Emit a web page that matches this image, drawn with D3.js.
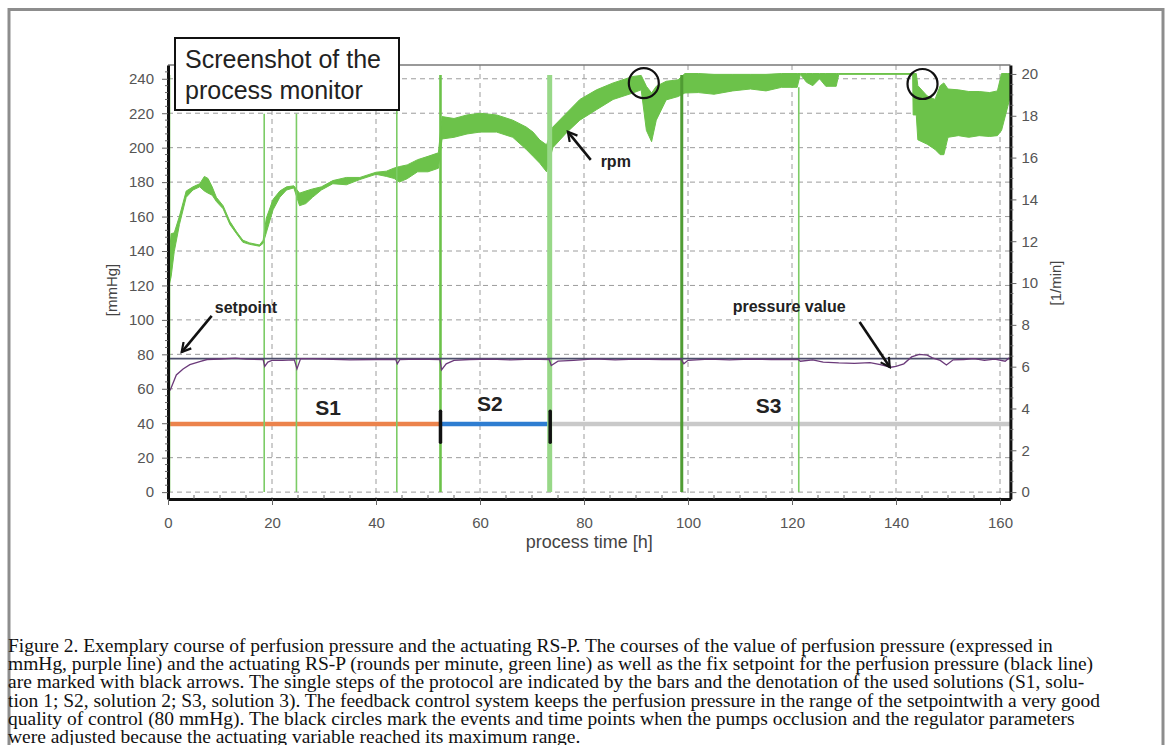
<!DOCTYPE html>
<html>
<head>
<meta charset="utf-8">
<script src="https://cdn.jsdelivr.net/npm/d3@7"></script>
<style>
  body { margin: 0; background: #fff; }
  text { font-family: "Liberation Sans", Arial, sans-serif; }
  .caption text { font-family: "Liberation Serif", "Times New Roman", serif; font-size: 18px; fill: #111; }
  .grid line { stroke: #9c9c9c; stroke-width: 1; stroke-dasharray: 5,4; }
  .axis text { font-size: 15px; fill: #555; }
  .axis .tick line { stroke: #666; }
  .axis .domain { stroke: #111; stroke-width: 3; }
  .note { font-size: 16px; font-weight: bold; fill: #222; }
  .sol { font-size: 21px; font-weight: bold; fill: #222; }
</style>
</head>
<body>
<svg id="chart"></svg>
<script>
var timeTicks = [0, 20, 40, 60, 80, 100, 120, 140, 160];
var leftTicks = [0, 20, 40, 60, 80, 100, 120, 140, 160, 180, 200, 220, 240];
var rightTicks = [0, 2, 4, 6, 8, 10, 12, 14, 16, 18, 20];

// rpm band (1/min): time [h], lower and upper edge of the noisy trace
var rpmTime = [0.2, 0.6, 1.2, 2.2, 3.5, 4.8, 6.1, 7.0, 7.7, 8.5, 9.3, 10.6, 11.9, 13.2, 14.4, 15.7, 17.6, 18.3,
  18.9, 20.2, 21.5, 22.8, 24.2,
  25.3, 26.5, 27.8, 29.5, 31.7, 34.3, 36.9, 40.0, 42.0, 43.5,
  44.5, 46.0, 48.0, 50.0, 52.0,
  52.7, 55.0, 57.5, 60.0, 63.2, 66.3, 68.9, 70.2, 71.5, 72.8,
  74.0, 76.6, 79.2, 82.4, 85.6, 89.4, 91.0, 92.0, 93.0, 93.9, 95.8, 98.1,
  99.4, 102, 105, 108.6, 112, 115, 118, 121,
  121.6, 122.8, 124.0, 125.3, 126.5, 128.5, 129.0, 143.2, 143.3, 143.9,
  144.2, 146.0, 147.5, 148.5, 149.2, 150.0, 152.0, 154.0, 156.0, 158.0, 159.5, 160.3, 161.5, 162.0];
var rpmLow = [9.88, 10.30, 11.50, 12.80, 14.10, 14.45, 14.60, 14.40, 14.30, 14.20, 13.90, 13.55, 12.80, 12.35, 11.95, 11.85, 11.76, 11.90,
  12.40, 13.50, 14.10, 14.45, 14.55,
  13.70, 13.80, 14.10, 14.45, 14.75, 14.70, 14.95, 15.20, 15.10, 15.00,
  14.83, 14.99, 15.32, 15.32, 15.49,
  16.89, 16.97, 17.13, 17.22, 17.22, 16.97, 16.39, 16.06, 15.73, 15.32,
  16.47, 17.18, 17.79, 18.29, 18.78, 19.09, 19.24, 17.30, 16.76, 17.79, 18.76, 18.92,
  19.09, 19.11, 19.03, 19.19, 19.28, 19.19, 19.36, 19.36,
  19.98, 19.60, 19.44, 19.77, 19.41, 19.41, 19.98, 19.98, 18.04, 18.04,
  16.85, 16.64, 16.39, 16.14, 16.14, 16.97, 17.05, 16.97, 17.05, 17.01, 17.05, 17.30, 18.45, 18.95];
var rpmHigh = [11.12, 12.36, 12.40, 13.20, 14.40, 14.60, 14.75, 15.10, 15.00, 14.60, 14.10, 13.70, 12.95, 12.45, 12.05, 11.92, 11.82, 12.05,
  13.10, 14.00, 14.40, 14.60, 14.65,
  14.30, 14.40, 14.50, 14.60, 14.90, 15.05, 15.05, 15.30, 15.35, 15.50,
  15.57, 15.65, 15.90, 16.06, 16.23,
  17.96, 17.87, 18.04, 18.12, 18.04, 17.79, 17.46, 17.22, 16.84, 16.61,
  17.46, 18.12, 18.78, 19.24, 19.57, 19.88, 19.93, 19.41, 19.09, 19.41, 19.65, 19.72,
  20.02, 20.02, 19.98, 19.98, 19.98, 19.98, 20.02, 20.02,
  20.02, 20.02, 20.02, 20.02, 20.02, 20.02, 20.02, 20.02, 20.02, 20.02,
  19.44, 18.95, 18.78, 19.44, 19.57, 19.28, 19.24, 19.16, 19.16, 19.11, 19.19, 20.02, 20.02, 20.02];

// short pump stops: rpm drops to 0 and back
var spikeTime = [0.15, 18.5, 24.7, 44.0, 52.4, 73.4, 98.8, 121.3];
var spikeTop = [19.95, 18.1, 18.1, 19.95, 19.95, 19.95, 19.95, 19.36];

// perfusion pressure value (mmHg)
var pressureTime = [0.4, 1.6, 2.9, 4.2, 6.1, 7.5, 10, 13, 15, 18.3, 18.6, 19.2, 20, 22, 24.3, 24.8, 25.5, 30, 35, 40, 43.8, 44.1, 44.6,
  48, 52.3, 52.6, 53.5, 55, 58, 62, 66, 70, 73.3, 73.7, 75, 78, 82, 86, 90, 95, 98.7, 99.2, 100, 104, 108, 112, 116,
  121.2, 121.6, 124, 126, 129, 132, 135, 137, 139, 140, 141.5, 143, 144.5, 146, 147, 148.5, 149.7, 151, 153, 155, 157, 159, 161, 161.8];
var pressureValue = [59, 68, 71.5, 74, 75.8, 77, 77.3, 77.8, 77.2, 77, 73, 75.5, 76.5, 76.5, 76.8, 71.5, 77.5, 77.3, 76.8, 77, 77, 74.5, 77,
  77.2, 77, 71, 74.5, 76.5, 77, 77.2, 76.8, 77.2, 77, 73.5, 76, 76.5, 77.4, 76.8, 77.2, 77, 77, 74.5, 76.5, 77.2, 76.8, 77.3, 77,
  77, 76, 76.8, 75.5, 75, 74.8, 75.2, 74, 72.5, 73, 74.5, 78.5, 80, 79.5, 78, 76.5, 73.8, 76.8, 77, 77.5, 76.5, 77.2, 76, 78];
var setpoint = 77.5;

// solutions used in the protocol
var solutionNames = ["S1", "S2", "S3"];
var solutionStart = [0, 52.4, 73.5];
var solutionEnd = [52.4, 73.5, 162];
var solutionLevel = 39.5;

// events marked with circles (time, rpm)
var eventTime = [91.5, 145.1];
var eventRpm = [19.56, 19.52];

var captionLines = [
  "Figure 2. Exemplary course of perfusion pressure and the actuating RS-P. The courses of the value of perfusion pressure (expressed in",
  "mmHg, purple line) and the actuating RS-P (rounds per minute, green line) as well as the fix setpoint for the perfusion pressure (black line)",
  "are marked with black arrows. The single steps of the protocol are indicated by the bars and the denotation of the used solutions (S1, solu-",
  "tion 1; S2, solution 2; S3, solution 3). The feedback control system keeps the perfusion pressure in the range of the setpointwith a very good",
  "quality of control (80 mmHg). The black circles mark the events and time points when the pumps occlusion and the regulator parameters",
  "were adjusted because the actuating variable reached its maximum range."
];

// ---- layout ----
var width = 1170, height = 745;
var plotLeft = 168, plotRight = 1010.4, plotTop = 65, plotBottom = 499;

var svg = d3.select("#chart")
    .attr("width", width)
    .attr("height", height);

var x = d3.scaleLinear().domain([0, 162]).range([plotLeft, plotRight]);
var yL = d3.scaleLinear().domain([-4, 248]).range([plotBottom, plotTop]);
var yR = d3.scaleLinear().domain([-4 / 12.14, 248 / 12.14]).range([plotBottom, plotTop]);

// outer frame of the figure
svg.append("path")
    .attr("d", "M9,745 V9.5 H1163 V745")
    .attr("fill", "none")
    .attr("stroke", "#8d8d8d")
    .attr("stroke-width", 3);

// grid
var grid = svg.append("g").attr("class", "grid");
grid.selectAll(".h")
    .data(leftTicks)
  .enter().append("line")
    .attr("x1", plotLeft).attr("x2", plotRight)
    .attr("y1", function(d) { return yL(d); })
    .attr("y2", function(d) { return yL(d); });
grid.selectAll(".v")
    .data(timeTicks.slice(1))
  .enter().append("line")
    .attr("x1", function(d) { return x(d); })
    .attr("x2", function(d) { return x(d); })
    .attr("y1", plotTop).attr("y2", plotBottom);

// top frame line
svg.append("line")
    .attr("x1", plotLeft).attr("x2", plotRight)
    .attr("y1", plotTop).attr("y2", plotTop)
    .attr("stroke", "#777").attr("stroke-width", 1.5);

// solution bars
var solColor = ["#ec834c", "#2e7dd1", "#c9c9c9"];
svg.selectAll(".solbar")
    .data(solutionNames)
  .enter().append("line")
    .attr("x1", function(d, i) { return x(solutionStart[i]); })
    .attr("x2", function(d, i) { return x(solutionEnd[i]); })
    .attr("y1", yL(solutionLevel))
    .attr("y2", yL(solutionLevel))
    .attr("stroke", function(d, i) { return solColor[i]; })
    .attr("stroke-width", 4.5);

// rpm band
var rpm = rpmTime.map(function(t, i) { return { t: t, lo: rpmLow[i], hi: rpmHigh[i] }; });
var area = d3.area()
    .x(function(d) { return x(d.t); })
    .y0(function(d) { return yR(d.lo); })
    .y1(function(d) { return yR(d.hi); });

svg.append("path")
    .datum(rpm)
    .attr("d", area)
    .attr("fill", "#6cc24a")
    .attr("stroke", "#6cc24a")
    .attr("stroke-width", 1)
    .attr("stroke-linejoin", "round");

// pump stops
var spikeWidth = [3, 1.6, 1.6, 1.6, 2.6, 5, 3, 1.6];
var spikeColor = ["#5dba3e", "#7ccc66", "#7ccc66", "#7ccc66", "#6cc24a", "#98d888", "#4f9c33", "#7ccc66"];
svg.selectAll(".spike")
    .data(spikeTime)
  .enter().append("line")
    .attr("x1", function(d) { return x(d); })
    .attr("x2", function(d) { return x(d); })
    .attr("y1", yR(0))
    .attr("y2", function(d, i) { return yR(spikeTop[i]); })
    .attr("stroke", function(d, i) { return spikeColor[i]; })
    .attr("stroke-width", function(d, i) { return spikeWidth[i]; });

// setpoint
svg.append("line")
    .attr("x1", x(0)).attr("x2", x(162))
    .attr("y1", yL(setpoint)).attr("y2", yL(setpoint))
    .attr("stroke", "#4b4e6a")
    .attr("stroke-width", 1.6);

// pressure value
var line = d3.line()
    .x(function(d, i) { return x(pressureTime[i]); })
    .y(function(d) { return yL(d); });
svg.append("path")
    .datum(pressureValue)
    .attr("d", line)
    .attr("fill", "none")
    .attr("stroke", "#6b3a7a")
    .attr("stroke-width", 1.3);

// step markers between solutions
svg.selectAll(".step")
    .data(solutionStart.slice(1))
  .enter().append("line")
    .attr("x1", function(d) { return x(d); })
    .attr("x2", function(d) { return x(d); })
    .attr("y1", yL(29)).attr("y2", yL(47))
    .attr("stroke", "#111")
    .attr("stroke-width", 3.5)
    .attr("stroke-linecap", "round");

// axes
svg.append("g")
    .attr("class", "axis")
    .attr("transform", "translate(" + plotLeft + ",0)")
    .call(d3.axisLeft(yL).tickValues(leftTicks).tickSize(6).tickSizeOuter(0).tickPadding(8));

svg.append("g")
    .attr("class", "axis")
    .attr("transform", "translate(" + plotRight + ",0)")
    .call(d3.axisRight(yR).tickValues(rightTicks).tickSize(6).tickSizeOuter(0).tickPadding(5));

svg.append("g")
    .attr("class", "axis")
    .attr("transform", "translate(0," + plotBottom + ")")
    .call(d3.axisBottom(x).tickValues(timeTicks).tickSize(6).tickSizeOuter(0).tickPadding(12));

// minor ticks
svg.append("g").selectAll("line")
    .data(d3.range(4, 248, 4).filter(function(d) { return d % 20; }))
  .enter().append("line")
    .attr("x1", plotLeft - 3).attr("x2", plotLeft)
    .attr("y1", function(d) { return yL(d); })
    .attr("y2", function(d) { return yL(d); })
    .attr("stroke", "#666");
svg.append("g").selectAll("line")
    .data(d3.range(0.5, 20.4, 0.5).filter(function(d) { return d % 2; }))
  .enter().append("line")
    .attr("x1", plotRight).attr("x2", plotRight + 3)
    .attr("y1", function(d) { return yR(d); })
    .attr("y2", function(d) { return yR(d); })
    .attr("stroke", "#666");
svg.append("g").selectAll("line")
    .data(d3.range(5, 162, 5).filter(function(d) { return d % 20; }))
  .enter().append("line")
    .attr("x1", function(d) { return x(d); })
    .attr("x2", function(d) { return x(d); })
    .attr("y1", plotBottom - 4).attr("y2", plotBottom)
    .attr("stroke", "#666");

// axis titles
svg.append("text")
    .attr("transform", "translate(117,290) rotate(-90)")
    .attr("text-anchor", "middle")
    .style("font-size", "15px").style("fill", "#444")
    .text("[mmHg]");
svg.append("text")
    .attr("transform", "translate(1061,283) rotate(-90)")
    .attr("text-anchor", "middle")
    .style("font-size", "15px").style("fill", "#444")
    .text("[1/min]");
svg.append("text")
    .attr("x", x(81)).attr("y", 548)
    .attr("text-anchor", "middle")
    .style("font-size", "18px").style("fill", "#444")
    .text("process time [h]");

// solution labels
var solLabelT = [30.8, 61.9, 115.5];
var solLabelV = [49.4, 51.7, 50.6];
svg.selectAll(".sol")
    .data(solutionNames)
  .enter().append("text")
    .attr("class", "sol")
    .attr("x", function(d, i) { return x(solLabelT[i]); })
    .attr("y", function(d, i) { return yL(solLabelV[i]); })
    .attr("text-anchor", "middle")
    .attr("dy", "0.36em")
    .text(function(d) { return d; });

// annotations with arrows
svg.append("defs").append("marker")
    .attr("id", "head")
    .attr("viewBox", "0 0 12 12")
    .attr("refX", 10).attr("refY", 6)
    .attr("markerWidth", 12).attr("markerHeight", 12)
    .attr("markerUnits", "userSpaceOnUse")
    .attr("orient", "auto")
  .append("path")
    .attr("d", "M1,1 L10,6 L1,11")
    .attr("fill", "none")
    .attr("stroke", "#111")
    .attr("stroke-width", 2.2);

var notes = [
  { text: "setpoint", t: 9.0, v: 104, from: [8.4, 102.3], to: [2.63, 81.3] },
  { text: "rpm", t: 83.2, v: 188.8, from: [81.3, 192.9], to: [76.9, 209.2] },
  { text: "pressure value", t: 108.6, v: 104.6, from: [133.0, 98.8], to: [138.8, 72.6] }
];
svg.selectAll(".note")
    .data(notes)
  .enter().append("text")
    .attr("class", "note")
    .attr("x", function(d) { return x(d.t); })
    .attr("y", function(d) { return yL(d.v); })
    .text(function(d) { return d.text; });
svg.selectAll(".arrow")
    .data(notes)
  .enter().append("line")
    .attr("x1", function(d) { return x(d.from[0]); })
    .attr("y1", function(d) { return yL(d.from[1]); })
    .attr("x2", function(d) { return x(d.to[0]); })
    .attr("y2", function(d) { return yL(d.to[1]); })
    .attr("stroke", "#111")
    .attr("stroke-width", 2.6)
    .attr("marker-end", "url(#head)");

// event circles
svg.selectAll(".event")
    .data(eventTime)
  .enter().append("circle")
    .attr("cx", function(d) { return x(d); })
    .attr("cy", function(d, i) { return yR(eventRpm[i]); })
    .attr("r", 15)
    .attr("fill", "none")
    .attr("stroke", "#111")
    .attr("stroke-width", 2.2);

// title box
var box = svg.append("g").attr("transform", "translate(175,38)");
box.append("rect")
    .attr("width", 224).attr("height", 72)
    .attr("fill", "#fff")
    .attr("stroke", "#111")
    .attr("stroke-width", 2);
box.append("text")
    .attr("x", 10).attr("y", 30)
    .style("font-size", "25px").style("fill", "#222")
    .text("Screenshot of the");
box.append("text")
    .attr("x", 10).attr("y", 61)
    .style("font-size", "25px").style("fill", "#222")
    .text("process monitor");

// caption (the scanned figure is slightly stretched sideways)
svg.append("g")
    .attr("class", "caption")
    .attr("transform", "translate(8,0) scale(1.083,1)")
  .selectAll("text")
    .data(captionLines)
  .enter().append("text")
    .attr("x", 0)
    .attr("y", function(d, i) { return 652 + i * 18.2; })
    .text(function(d) { return d; });
</script>
</body>
</html>
